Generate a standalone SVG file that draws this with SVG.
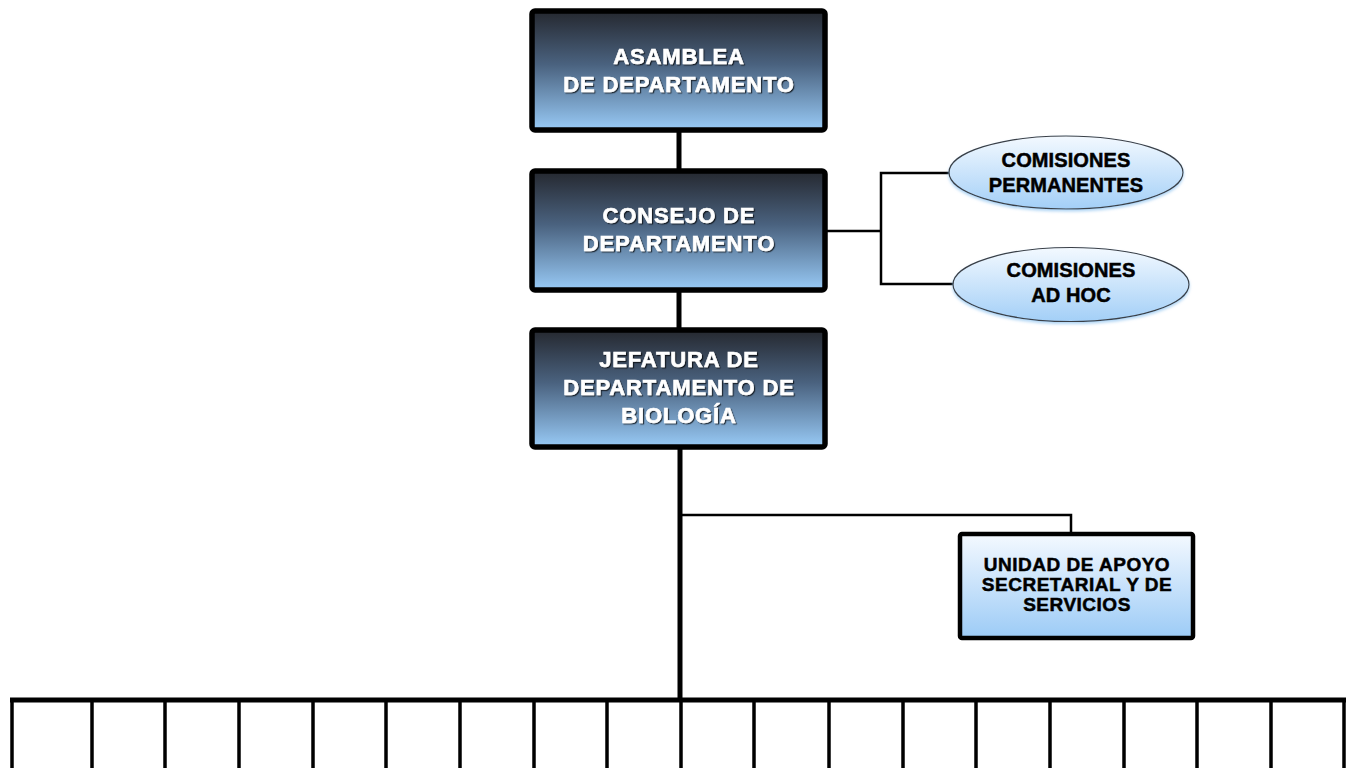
<svg xmlns="http://www.w3.org/2000/svg" width="1348" height="768" viewBox="0 0 1348 768">
<defs>
<linearGradient id="gDark" x1="0" y1="0" x2="0" y2="1">
<stop offset="0" stop-color="#25282f"/>
<stop offset="0.45" stop-color="#4a627f"/>
<stop offset="1" stop-color="#98caf6"/>
</linearGradient>
<linearGradient id="gLight" x1="0" y1="0" x2="0" y2="1">
<stop offset="0" stop-color="#f4f9ff"/>
<stop offset="1" stop-color="#9ccbf6"/>
</linearGradient>
<linearGradient id="gEll" x1="0" y1="0" x2="0" y2="1">
<stop offset="0" stop-color="#f3f9ff"/>
<stop offset="1" stop-color="#a3cff7"/>
</linearGradient>
<filter id="sh" x="-10%" y="-20%" width="120%" height="140%">
<feDropShadow dx="1.2" dy="1.2" stdDeviation="0.6" flood-color="#000" flood-opacity="0.7"/>
</filter>
<filter id="glow" x="-10%" y="-20%" width="120%" height="150%">
<feDropShadow dx="0" dy="2" stdDeviation="1.5" flood-color="#8fc3f0" flood-opacity="0.7"/>
</filter>
</defs>
<style>
.box{fill:url(#gDark);stroke:#000;stroke-width:5.5;}
.ubox{fill:url(#gLight);stroke:#000;stroke-width:4.5;}
.ell{fill:url(#gEll);stroke:#3a3f46;stroke-width:1.2;}
.wt{font-family:"Liberation Sans",Arial,sans-serif;font-weight:bold;font-size:22px;fill:#fff;stroke:#fff;stroke-width:0.6px;text-anchor:middle;letter-spacing:0.85px;}
.bt{font-family:"Liberation Sans",Arial,sans-serif;font-weight:bold;font-size:20px;fill:#000;stroke:#000;stroke-width:0.5px;text-anchor:middle;letter-spacing:0.1px;}
.ut{font-family:"Liberation Sans",Arial,sans-serif;font-weight:bold;font-size:19px;fill:#000;stroke:#000;stroke-width:0.5px;text-anchor:middle;letter-spacing:0.5px;}
.thick{stroke:#000;stroke-width:5;fill:none;}
.thin{stroke:#000;stroke-width:2.5;fill:none;}
.tick{stroke:#000;stroke-width:3.5;fill:none;}
</style>
<g id="connectors">
<line class="thick" x1="679" y1="130" x2="679" y2="171"/>
<line class="thick" x1="679" y1="290" x2="679" y2="330"/>
<line class="thick" x1="680" y1="447" x2="680" y2="700"/>
<polyline class="thin" points="826,231 881,231"/>
<polyline class="thin" points="950,173 881,173 881,284 955,284"/>
<polyline class="thin" points="680,515 1071,515 1071,533"/>
<line class="thick" x1="10" y1="700" x2="1346" y2="700"/>
<g class="tick">
<line x1="12" y1="698" x2="12" y2="768"/>
<line x1="92" y1="700" x2="92" y2="768"/>
<line x1="165" y1="700" x2="165" y2="768"/>
<line x1="239" y1="700" x2="239" y2="768"/>
<line x1="313" y1="700" x2="313" y2="768"/>
<line x1="386" y1="700" x2="386" y2="768"/>
<line x1="460" y1="700" x2="460" y2="768"/>
<line x1="534" y1="700" x2="534" y2="768"/>
<line x1="607" y1="700" x2="607" y2="768"/>
<line x1="681" y1="700" x2="681" y2="768"/>
<line x1="754" y1="700" x2="754" y2="768"/>
<line x1="829" y1="700" x2="829" y2="768"/>
<line x1="903" y1="700" x2="903" y2="768"/>
<line x1="976" y1="700" x2="976" y2="768"/>
<line x1="1050" y1="700" x2="1050" y2="768"/>
<line x1="1124" y1="700" x2="1124" y2="768"/>
<line x1="1197" y1="700" x2="1197" y2="768"/>
<line x1="1271" y1="700" x2="1271" y2="768"/>
<line x1="1344" y1="698" x2="1344" y2="768"/>
</g>
</g>
<g id="asamblea">
<rect class="box" x="532" y="11" width="293" height="119" rx="3"/>
<g filter="url(#sh)">
<text class="wt" x="679" y="64">ASAMBLEA</text>
<text class="wt" x="679" y="92">DE DEPARTAMENTO</text>
</g>
</g>
<g id="consejo">
<rect class="box" x="532" y="171" width="293" height="119" rx="3"/>
<g filter="url(#sh)">
<text class="wt" x="679" y="223">CONSEJO DE</text>
<text class="wt" x="679" y="251">DEPARTAMENTO</text>
</g>
</g>
<g id="jefatura">
<rect class="box" x="532" y="330" width="293" height="117" rx="3"/>
<g filter="url(#sh)">
<text class="wt" x="679" y="367">JEFATURA DE</text>
<text class="wt" x="679" y="395">DEPARTAMENTO DE</text>
<text class="wt" x="679" y="423">BIOLOGÍA</text>
</g>
</g>
<g id="comisiones-permanentes">
<ellipse class="ell" cx="1066" cy="172.5" rx="117" ry="36.5" filter="url(#glow)"/>
<text class="bt" x="1066" y="167">COMISIONES</text>
<text class="bt" x="1066" y="192">PERMANENTES</text>
</g>
<g id="comisiones-ad-hoc">
<ellipse class="ell" cx="1071" cy="284.5" rx="118" ry="37" filter="url(#glow)"/>
<text class="bt" x="1071" y="277">COMISIONES</text>
<text class="bt" x="1071" y="302">AD HOC</text>
</g>
<g id="unidad-apoyo">
<rect class="ubox" x="960" y="534" width="233" height="104" rx="2"/>
<text class="ut" x="1077" y="571">UNIDAD DE APOYO</text>
<text class="ut" x="1077" y="591">SECRETARIAL Y DE</text>
<text class="ut" x="1077" y="611">SERVICIOS</text>
</g>
</svg>
